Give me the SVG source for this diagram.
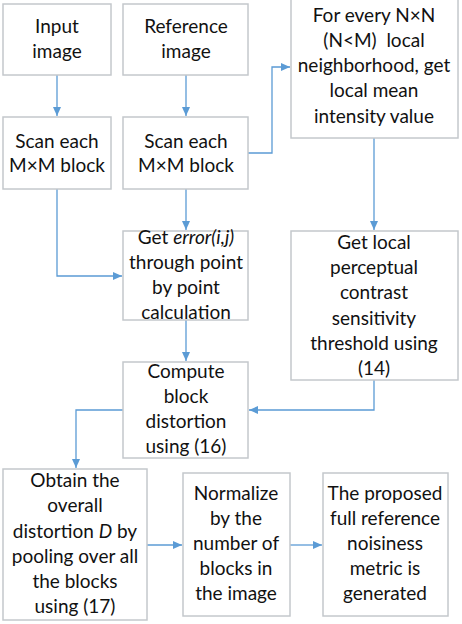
<svg xmlns="http://www.w3.org/2000/svg" width="462" height="624" viewBox="0 0 462 624">
<defs>
<style>
.box{fill:#ffffff;stroke:#c4c8cc;stroke-width:1.5}
.t{font-family:Lato,"Liberation Sans",sans-serif;font-size:19px;fill:#111;text-anchor:middle}
.c{fill:none;stroke:#5b9bd5;stroke-width:1.3}
</style>
<marker id="ah" markerUnits="userSpaceOnUse" markerWidth="10" markerHeight="10" refX="9" refY="5" orient="auto">
<path d="M0,1 L9,5 L0,9 Z" fill="#5b9bd5"/>
</marker>
</defs>
<rect width="462" height="624" fill="#fff"/>
<g id="connectors">
<path class="c" d="M57,75 V116" marker-end="url(#ah)"/>
<path class="c" d="M186,75 V116" marker-end="url(#ah)"/>
<path class="c" d="M248,153 H272 V67 H290" marker-end="url(#ah)"/>
<path class="c" d="M57,189 V276 H122" marker-end="url(#ah)"/>
<path class="c" d="M186,189 V230" marker-end="url(#ah)"/>
<path class="c" d="M374,138 V230" marker-end="url(#ah)"/>
<path class="c" d="M186,320 V361" marker-end="url(#ah)"/>
<path class="c" d="M374,380 V410 H249" marker-end="url(#ah)"/>
<path class="c" d="M123,410 H76 V468" marker-end="url(#ah)"/>
<path class="c" d="M147,545 H182" marker-end="url(#ah)"/>
<path class="c" d="M290,545 H322" marker-end="url(#ah)"/>
</g>
<g id="n1"><rect class="box" x="3" y="4" width="108" height="71"/>
<text class="t" x="57" y="33">Input</text><text class="t" x="57" y="58">image</text></g>
<g id="n2"><rect class="box" x="123" y="4" width="125" height="71"/>
<text class="t" x="186" y="33">Reference</text><text class="t" x="186" y="58">image</text></g>
<g id="n3"><rect class="box" x="291" y="-1" width="167" height="139"/>
<text class="t" x="374" y="22">For every N×N</text>
<text class="t" x="374" y="47" xml:space="preserve">(N&lt;M)  local</text>
<text class="t" x="374" y="72">neighborhood, get</text>
<text class="t" x="374" y="97">local mean</text>
<text class="t" x="374" y="123">intensity value</text></g>
<g id="n4"><rect class="box" x="3" y="117" width="108" height="72"/>
<text class="t" x="57" y="148">Scan each</text><text class="t" x="57" y="172">M×M block</text></g>
<g id="n5"><rect class="box" x="123" y="117" width="125" height="72"/>
<text class="t" x="186" y="148">Scan each</text><text class="t" x="186" y="172">M×M block</text></g>
<g id="n6"><rect class="box" x="123" y="231" width="125" height="89"/>
<text class="t" x="186" y="244">Get <tspan font-style="italic">error(i,j)</tspan></text>
<text class="t" x="186" y="269">through point</text>
<text class="t" x="186" y="294">by point</text>
<text class="t" x="186" y="319">calculation</text></g>
<g id="n7"><rect class="box" x="291" y="231" width="167" height="149"/>
<text class="t" x="374" y="249">Get local</text>
<text class="t" x="374" y="274">perceptual</text>
<text class="t" x="374" y="299">contrast</text>
<text class="t" x="374" y="325">sensitivity</text>
<text class="t" x="374" y="350">threshold using</text>
<text class="t" x="374" y="375">(14)</text></g>
<g id="n8"><rect class="box" x="123" y="362" width="125" height="96"/>
<text class="t" x="186" y="378">Compute</text>
<text class="t" x="186" y="403">block</text>
<text class="t" x="186" y="428">distortion</text>
<text class="t" x="186" y="453">using (16)</text></g>
<g id="n9"><rect class="box" x="3" y="469" width="144" height="151"/>
<text class="t" x="75" y="487">Obtain the</text>
<text class="t" x="75" y="512">overall</text>
<text class="t" x="75" y="538">distortion <tspan font-style="italic">D</tspan> by</text>
<text class="t" x="75" y="563">pooling over all</text>
<text class="t" x="75" y="588">the blocks</text>
<text class="t" x="75" y="613">using (17)</text></g>
<g id="n10"><rect class="box" x="183" y="473" width="107" height="143"/>
<text class="t" x="236" y="500">Normalize</text>
<text class="t" x="236" y="525">by the</text>
<text class="t" x="236" y="550">number of</text>
<text class="t" x="236" y="575">blocks in</text>
<text class="t" x="236" y="600">the image</text></g>
<g id="n11"><rect class="box" x="323" y="473" width="125" height="143"/>
<text class="t" x="385" y="500">The proposed</text>
<text class="t" x="385" y="525">full reference</text>
<text class="t" x="385" y="550">noisiness</text>
<text class="t" x="385" y="575">metric is</text>
<text class="t" x="385" y="600">generated</text></g>
</svg>
